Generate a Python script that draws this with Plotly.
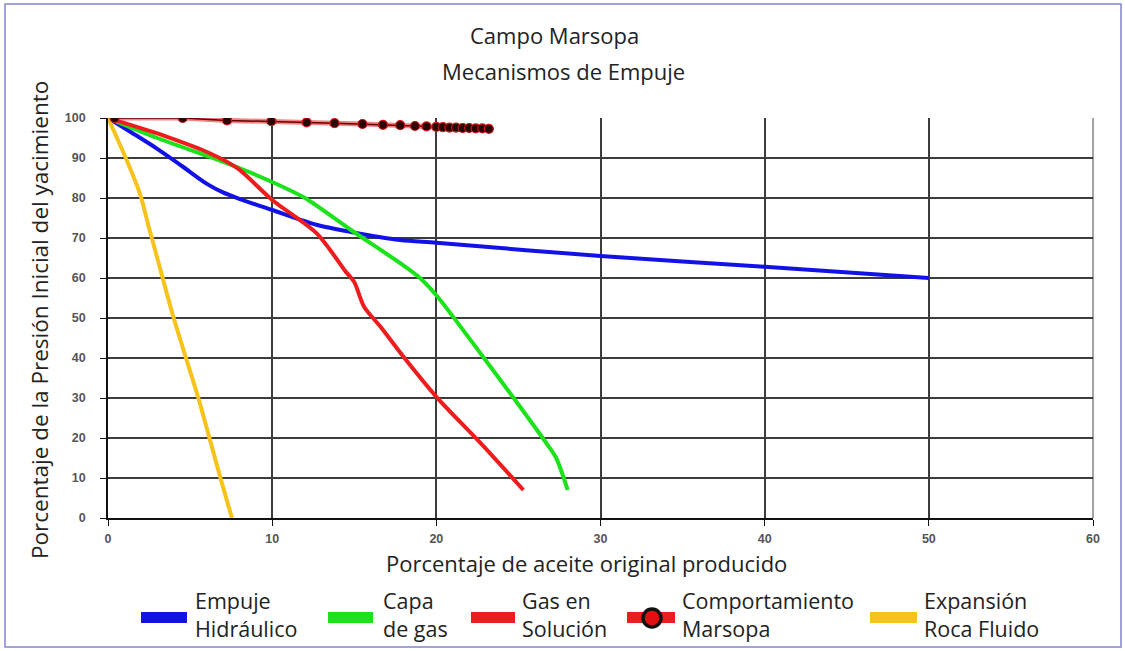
import plotly.graph_objects as go

# Porcentaje de aceite original producido (x) vs porcentaje de la presión inicial (y)
hidraulico_x = [0, 1.5, 3, 4.5, 6, 7, 8, 10, 12.7, 14.8, 17.8, 20, 30, 40, 50]
hidraulico_y = [100, 96.2, 92.3, 88, 83.6, 81.4, 79.8, 77, 73.3, 71.5, 69.5, 68.8, 65.5, 62.8, 60]

capa_gas_x = [0, 3, 6.2, 8, 10, 12, 14.8, 17.8, 19, 20, 22.9, 24.8, 26.7, 27.3, 28]
capa_gas_y = [100, 95, 90.3, 87.5, 84, 80, 72, 63.7, 60, 55.7, 40, 29.5, 18.7, 15, 7]

gas_solucion_x = [0, 3.6, 6.2, 7.9, 10, 12.7, 14.5, 15, 15.6, 16.6, 18, 20, 22.7, 25.3]
gas_solucion_y = [100, 95.3, 91.2, 87.4, 79.5, 71.2, 61.5, 59, 52.8, 47.8, 40.3, 30.3, 18.7, 7]

roca_fluido_x = [0, 1.1, 1.95, 2.5, 3, 4, 5.5, 6.85, 7.55]
roca_fluido_y = [100, 89.8, 81, 72.5, 65, 50, 30, 10, 0]

marsopa_x = [0.4, 4.55, 7.25, 9.95, 12.1, 13.8, 15.5, 16.75, 17.8, 18.7, 19.4, 20.0,
             20.4, 20.8, 21.2, 21.6, 22.0, 22.4, 22.8, 23.2]
marsopa_y = [100, 100, 99.4, 99.2, 98.9, 98.7, 98.5, 98.3, 98.2, 98.0, 97.9, 97.8,
             97.7, 97.6, 97.6, 97.5, 97.5, 97.4, 97.4, 97.3]

x_ticks = [0, 10, 20, 30, 40, 50, 60]
y_ticks = [0, 10, 20, 30, 40, 50, 60, 70, 80, 90, 100]

legend_names = ["Empuje<br>Hidráulico", "Capa<br>de gas", "Gas en<br>Solución",
                "Comportamiento<br>Marsopa", "Expansión<br>Roca Fluido"]

BLUE = "#1212e6"
GREEN = "#1be21b"
RED = "#ee1d1d"
YELLOW = "#f7c31a"
DARK = "#2a0303"

W, H = 1125, 651
ML, MR, MT, MB = 108, 32, 118, 133
PW, PH = W - ML - MR, H - MT - MB


def px(x):
    return (x - ML) / PW


def py(y):
    return (H - MB - y) / PH


FONT = "Open Sans"
TXT = "#222"

fig = go.Figure()

curves = [
    (hidraulico_x, hidraulico_y, BLUE, "Empuje Hidráulico"),
    (capa_gas_x, capa_gas_y, GREEN, "Capa de gas"),
    (gas_solucion_x, gas_solucion_y, RED, "Gas en Solución"),
    (roca_fluido_x, roca_fluido_y, YELLOW, "Expansión Roca Fluido"),
]
for xs, ys, col, name in curves:
    fig.add_trace(go.Scatter(
        x=xs, y=ys, mode="lines", name=name, showlegend=False,
        line=dict(color=col, width=4, shape="spline", smoothing=0.8),
    ))

# Comportamiento del campo: red glow under a dark line with dots
fig.add_trace(go.Scatter(
    x=marsopa_x, y=marsopa_y, mode="lines", showlegend=False, hoverinfo="skip",
    line=dict(color="rgba(230,30,30,0.55)", width=5),
))
fig.add_trace(go.Scatter(
    x=marsopa_x, y=marsopa_y, mode="lines+markers", name="Comportamiento Marsopa",
    showlegend=False,
    line=dict(color="#6a0000", width=1.5),
    marker=dict(size=9, color=DARK, line=dict(color="#d01515", width=1.2)),
))

axis_common = dict(
    showgrid=True, gridcolor="#3c3c3c", gridwidth=1.8,
    showline=True, linecolor="#111", linewidth=1.8,
    mirror=False, zeroline=False,
    ticks="outside", ticklen=6, tickcolor="#111", tickwidth=1.4,
    tickfont=dict(family="Liberation Sans", size=12.5, color="#555", weight="bold"),
)

fig.update_xaxes(range=[0, 60], tickvals=x_ticks, ticklabelstandoff=2, **axis_common)
fig.update_yaxes(range=[0, 100], tickvals=y_ticks, ticklabelstandoff=12, **axis_common)

shapes = [
    # plot frame (right side in light gray)
    dict(type="line", xref="paper", yref="paper", x0=1, x1=1, y0=0, y1=1,
         line=dict(color="#9a9a9a", width=1.8), layer="below"),
    # figure border
    dict(type="rect", xref="paper", yref="paper",
         x0=px(5), x1=px(1121), y0=py(4), y1=py(647),
         line=dict(color="#8585cf", width=1.5)),
]


def label(text, x, y, size, **kw):
    d = dict(text=text, x=px(x), y=py(y), xref="paper", yref="paper",
             xanchor="center", yanchor="middle", showarrow=False,
             font=dict(family=FONT, size=size, color=TXT))
    d.update(kw)
    return d


annotations = [
    label("Campo Marsopa", 554, 35, 22),
    label("Mecanismos de Empuje", 563, 71, 22),
    label("Porcentaje de aceite original producido", 586, 563, 22),
    label("Porcentaje de la Presión Inicial del yacimiento", 39, 320, 22.5, textangle=-90),
]

# legend: swatch bars + two-line labels
legend_bar_px = [(141, 187), (328, 373), (471, 515), (627, 675), (870, 917)]
legend_text_px = [193, 381, 520, 680, 922]
legend_colors = [BLUE, GREEN, RED, RED, YELLOW]
for (x0, x1), tx, col, name in zip(legend_bar_px, legend_text_px, legend_colors, legend_names):
    shapes.append(dict(type="rect", xref="paper", yref="paper",
                       x0=px(x0), x1=px(x1), y0=py(612), y1=py(623),
                       fillcolor=col, line=dict(width=0)))
    annotations.append(label(name, tx, 614, 21.5, xanchor="left", align="left"))
# marker glyph on the field-behaviour swatch
shapes.append(dict(type="circle", xref="paper", yref="paper",
                   x0=px(643), x1=px(661), y0=py(609), y1=py(627),
                   fillcolor="#e01010", line=dict(color="#111", width=3.5)))

fig.update_layout(
    width=W, height=H,
    margin=dict(l=ML, r=MR, t=MT, b=MB),
    paper_bgcolor="white", plot_bgcolor="white",
    showlegend=False,
    shapes=shapes, annotations=annotations,
    font=dict(family=FONT),
)

fig.write_html("out.html")
